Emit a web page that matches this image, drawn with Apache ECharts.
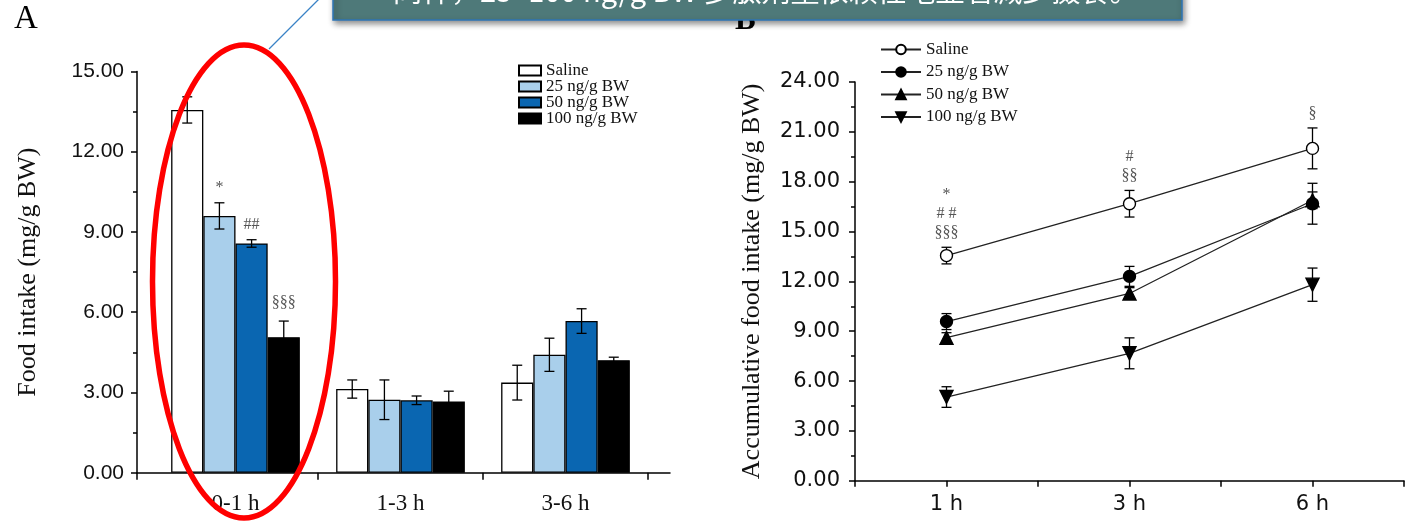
<!DOCTYPE html>
<html><head><meta charset="utf-8">
<script src="https://cdn.jsdelivr.net/npm/echarts@6/dist/echarts.min.js"></script>
<style>html,body{margin:0;padding:0;background:#fff}#c{width:1407px;height:522px}</style>
</head><body><div id="c"></div>
<script>
// ---------- Panel A data ----------
const categoriesA = ['0-1 h', '1-3 h', '3-6 h'];
const seriesNames = ['Saline', '25 ng/g BW', '50 ng/g BW', '100 ng/g BW'];
const salineA = [13.56, 3.13, 3.37];
const dose25A = [9.60, 2.73, 4.41];
const dose50A = [8.57, 2.71, 5.67];
const dose100A = [5.07, 2.66, 4.21];
const salineAErr = [0.49, 0.34, 0.65];
const dose25AErr = [0.49, 0.74, 0.62];
const dose50AErr = [0.14, 0.16, 0.46];
const dose100AErr = [0.60, 0.39, 0.11];
const annotA = [['', '*', '##', '§§§'], ['', '', '', ''], ['', '', '', '']];
const yMinA = 0, yMaxA = 15, yStepA = 3;

// ---------- Panel B data ----------
const timesB = ['1 h', '3 h', '6 h'];
const salineB = [13.55, 16.67, 20.00];
const dose25B = [9.58, 12.30, 16.67];
const dose50B = [8.61, 11.27, 16.88];
const dose100B = [5.04, 7.67, 11.80];
const salineBErr = [0.50, 0.80, 1.23];
const dose25BErr = [0.48, 0.60, 1.23];
const dose50BErr = [0.30, 0.35, 0.50];
const dose100BErr = [0.62, 0.93, 1.00];
const annotB = [['*', '# #', '§§§'], ['#', '§§'], ['§']];
const yMinB = 0, yMaxB = 24, yStepB = 3;

// ---------- styling ----------
const barColors = ['#ffffff', '#a9cfeb', '#0a66b1', '#000000'];
const symbolsB = ['circle', 'circle', 'triangle', 'triangle'];
const symbolFillB = ['#ffffff', '#000000', '#000000', '#000000'];
const symbolRotB = [0, 0, 0, 180];
const SERIF = '"Liberation Serif", "Times New Roman", serif';
const SANS = '"Liberation Sans", Arial, sans-serif';
const BARGAP = 0.22;

const meansA = [salineA, dose25A, dose50A, dose100A];
const errsA = [salineAErr, dose25AErr, dose50AErr, dose100AErr];
const meansB = [salineB, dose25B, dose50B, dose100B];
const errsB = [salineBErr, dose25BErr, dose50BErr, dose100BErr];
const namesB = seriesNames.map(n => 'B:' + n);

const errRowsA = [];
meansA.forEach((arr, s) => arr.forEach((v, c) => errRowsA.push([c, v, errsA[s][c], s])));
const errRowsB = [];
meansB.forEach((arr, s) => arr.forEach((v, i) => errRowsB.push([i + 1, v, errsB[s][i], s])));

function errGroup(cx, yt, yb, cap) {
  const ls = { stroke: '#000', lineWidth: 1.3 };
  return [
    { type: 'line', shape: { x1: cx, y1: yt, x2: cx, y2: yb }, style: ls },
    { type: 'line', shape: { x1: cx - cap, y1: yt, x2: cx + cap, y2: yt }, style: ls },
    { type: 'line', shape: { x1: cx - cap, y1: yb, x2: cx + cap, y2: yb }, style: ls }
  ];
}
function annText(text, x, y) {
  return { type: 'text', style: { text: text, x: x, y: y, align: 'center', textAlign: 'center',
    verticalAlign: 'bottom', textVerticalAlign: 'bottom', font: '16px ' + SERIF, fill: '#555', lineHeight: 19 } };
}

function renderErrA(params, api) {
  const c = api.value(0), m = api.value(1), e = api.value(2), s = api.value(3);
  const band = api.size([1, 0])[0];
  const barW = band * (1 - BARGAP) / 4;
  const cx = api.coord([c, m])[0] + (s - 1.5) * barW;
  const yt = api.coord([c, m + e])[1];
  const yb = api.coord([c, m - e])[1];
  const children = errGroup(cx, yt, yb, 5);
  const lab = annotA[c][s];
  if (lab) children.push(annText(lab, cx, yt - (lab === '§§§' ? 9 : 5)));
  return { type: 'group', children: children };
}
function renderErrB(params, api) {
  const x = api.value(0), m = api.value(1), e = api.value(2), s = api.value(3);
  const cx = api.coord([x, m])[0];
  const yt = api.coord([x, m + e])[1];
  const yb = api.coord([x, m - e])[1];
  const children = errGroup(cx, yt, yb, 5);
  if (s === 0) {
    const lab = annotB[x - 1];
    if (lab && lab.length) children.push(annText(lab.join('\n'), cx, yt - 5));
  }
  return { type: 'group', children: children };
}

const axisLineStyle = { color: '#000', width: 1.5 };
const chart = echarts.init(document.getElementById('c'), null, { renderer: 'canvas' });
const option = {
  animation: false,
  backgroundColor: '#fff',
  grid: [
    { left: 137, top: 71.4, width: 533, height: 401.4 },
    { left: 153, top: 71.4, width: 495, height: 401.4 },
    { left: 855, top: 81.9, width: 553.5, height: 398.9 }
  ],
  xAxis: [
    { gridIndex: 0, type: 'value', min: 0.403, max: 3.633,
      axisLine: { show: true, lineStyle: axisLineStyle },
      axisTick: { show: true, customValues: [0.403, 1.5, 2.5, 3.5], length: 7, lineStyle: { width: 1.5, color: '#000' } },
      axisLabel: { show: false }, splitLine: { show: false } },
    { gridIndex: 1, type: 'category', data: categoriesA,
      axisLine: { show: false }, axisTick: { show: false },
      axisLabel: { margin: 20, fontFamily: SERIF, fontSize: 23, color: '#111' } },
    { gridIndex: 2, type: 'value', min: 0.5, max: 3.5, interval: 0.5,
      axisLine: { show: true, lineStyle: axisLineStyle },
      axisTick: { show: true, length: 6, lineStyle: { width: 1.5, color: '#000' } },
      axisLabel: { margin: 13, fontFamily: '"DejaVu Sans", sans-serif', fontSize: 21, color: '#111',
        formatter: v => (Math.abs(v - Math.round(v)) < 1e-6 && timesB[Math.round(v) - 1]) ? timesB[Math.round(v) - 1] : '' },
      splitLine: { show: false } }
  ],
  yAxis: [
    { gridIndex: 0, type: 'value', min: yMinA, max: yMaxA, interval: yStepA,
      axisLine: { show: true, lineStyle: axisLineStyle },
      axisTick: { show: true, length: 6, lineStyle: { width: 1.5, color: '#000' } },
      minorTick: { show: true, splitNumber: 2, length: 4, lineStyle: { width: 1.5, color: '#000' } },
      axisLabel: { margin: 13, fontFamily: SANS, fontSize: 21, color: '#111', formatter: v => v.toFixed(2) },
      splitLine: { show: false },
      name: 'Food intake (mg/g BW)', nameLocation: 'middle', nameGap: 96, nameMoveOverlap: false,
      nameTextStyle: { fontFamily: SERIF, fontSize: 26, color: '#111' } },
    { gridIndex: 1, type: 'value', min: yMinA, max: yMaxA, show: false },
    { gridIndex: 2, type: 'value', min: yMinB, max: yMaxB, interval: yStepB,
      axisLine: { show: true, lineStyle: axisLineStyle },
      axisTick: { show: true, length: 6, lineStyle: { width: 1.5, color: '#000' } },
      minorTick: { show: true, splitNumber: 2, length: 4, lineStyle: { width: 1.5, color: '#000' } },
      axisLabel: { margin: 15, fontFamily: '"DejaVu Sans", sans-serif', fontSize: 21, color: '#111', formatter: v => v.toFixed(2) },
      splitLine: { show: false },
      name: 'Accumulative food intake (mg/g BW)', nameLocation: 'middle', nameGap: 90, nameMoveOverlap: false,
      nameTextStyle: { fontFamily: SERIF, fontSize: 26, color: '#111' } }
  ],
  legend: [
    { data: seriesNames, orient: 'vertical', left: 518, top: 62, padding: 0, itemWidth: 22, itemHeight: 10, itemGap: -1,
      icon: 'rect', textStyle: { fontFamily: SERIF, fontSize: 17, color: '#111', lineHeight: 16.3 } },
    { data: namesB, orient: 'vertical', left: 880, top: 41, padding: 0, itemWidth: 40, itemHeight: 12, itemGap: 5.5,
      formatter: n => n.replace(/^B:/, ''),
      textStyle: { fontFamily: SERIF, fontSize: 17, color: '#111', lineHeight: 16 } }
  ],
  series: [
    ...meansA.map((arr, s) => ({
      name: seriesNames[s], type: 'bar', xAxisIndex: 1, yAxisIndex: 1, data: arr,
      barGap: '0%', barCategoryGap: (BARGAP * 100) + '%',
      itemStyle: { color: barColors[s], borderColor: '#000', borderWidth: 1.3 }, z: 2
    })),
    { type: 'custom', xAxisIndex: 1, yAxisIndex: 1, data: errRowsA, renderItem: renderErrA,
      encode: { x: 0, y: 1 }, z: 5, silent: true },
    { type: 'custom', xAxisIndex: 2, yAxisIndex: 2, data: errRowsB, renderItem: renderErrB,
      encode: { x: 0, y: 1 }, z: 1, silent: true },
    ...meansB.map((arr, s) => ({
      name: namesB[s], type: 'line', xAxisIndex: 2, yAxisIndex: 2,
      data: arr.map((v, i) => [i + 1, v]),
      symbol: symbolsB[s], symbolSize: s >= 2 ? 13 : 12, symbolRotate: symbolRotB[s], showSymbol: true,
      lineStyle: { color: '#222', width: 1.3 },
      itemStyle: { color: symbolFillB[s], borderColor: '#000', borderWidth: 1.4 },
      z: 3
    }))
  ],
  graphic: [
    { type: 'text', left: 14, top: 3, z: 10, style: { text: 'A', font: '33px ' + SERIF, fill: '#000' } },
    { type: 'text', left: 735, top: 5, z: 10, style: { text: 'B', font: 'bold 31px ' + SERIF, fill: '#000' } },
    { type: 'ellipse', z: 50, shape: { cx: 244, cy: 281.5, rx: 91.5, ry: 236.5 },
      style: { fill: null, stroke: '#ff0000', lineWidth: 5.5 } },
    { type: 'line', z: 50, shape: { x1: 269, y1: 49, x2: 336, y2: -18 },
      style: { stroke: '#3a83c6', lineWidth: 1.3 } },
    { type: 'rect', z: 60, shape: { x: 333, y: -40, width: 849, height: 60 },
      style: { fill: '#4e7979', stroke: '#2e75b6', lineWidth: 1.5,
        shadowBlur: 6, shadowOffsetX: 2, shadowOffsetY: 3, shadowColor: 'rgba(0,0,0,0.45)' } },
    { type: 'text', z: 61, style: { text: '同样，25~100 ng/g BW 多肽剂量依赖性地显著减少摄食。',
        x: 393, y: 5, align: 'left', verticalAlign: 'bottom', textAlign: 'left', textVerticalAlign: 'bottom',
        font: '29px "Noto Sans CJK SC", sans-serif', fill: '#ffffff' } }
  ]
};
chart.setOption(option);
</script>
</body></html>
